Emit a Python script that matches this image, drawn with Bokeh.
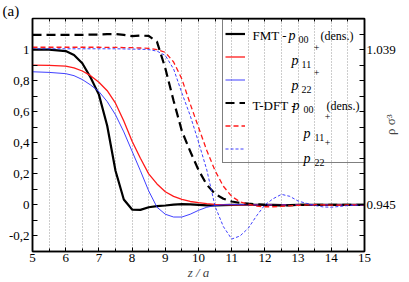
from math import pi
from bokeh.plotting import figure
from bokeh.models import Range1d, LinearAxis, FixedTicker, Legend, LegendItem, Label
from bokeh.core.properties import value
from bokeh.embed import file_html
from bokeh.resources import INLINE

# ---------------- data ----------------
z = [5, 5.5, 6, 6.25, 6.5, 6.75, 7, 7.25, 7.5, 7.75, 8, 8.25, 8.5, 8.75, 9, 9.25, 9.5, 9.75,
     10, 10.25, 10.5, 10.75, 11, 11.25, 11.5, 11.75, 12, 12.25, 12.5, 12.75, 13, 13.25, 13.5,
     13.75, 14, 14.25, 14.5, 15]

fmt_p00 = [1.0, 1.0, 0.99, 0.965, 0.912, 0.82, 0.71, 0.51, 0.22, 0.035, -0.03, -0.032, -0.015,
           -0.008, -0.004, 0.002, 0.005, 0.003, 0.0, -0.003, -0.003, -0.001, 0.0, 0.001, 0.001,
           0.0, 0.0, 0.0, -0.001, -0.001, 0.0, 0.0, 0.0, 0.0, 0.0, 0.0, 0.0, 0.0]
fmt_p11 = [0.90, 0.898, 0.893, 0.882, 0.862, 0.832, 0.79, 0.735, 0.655, 0.54, 0.41, 0.30, 0.20,
           0.135, 0.085, 0.055, 0.035, 0.022, 0.014, 0.008, 0.004, 0.002, 0.001, 0.0, 0.0, 0.0,
           0.0, 0.0, 0.0, 0.0, 0.0, 0.0, 0.0, 0.0, 0.0, 0.0, 0.0, 0.0]
fmt_p22 = [0.857, 0.853, 0.845, 0.832, 0.807, 0.772, 0.73, 0.665, 0.58, 0.47, 0.345, 0.22, 0.09,
           -0.015, -0.06, -0.078, -0.078, -0.06, -0.035, -0.015, -0.004, 0.001, 0.002, 0.002,
           0.001, 0.0, 0.0, 0.0, 0.0, 0.0, 0.0, 0.0, 0.0, 0.0, 0.0, 0.0, 0.0, 0.0]
tdft_p00 = [1.095, 1.095, 1.095, 1.095, 1.095, 1.096, 1.097, 1.099, 1.1, 1.095, 1.087, 1.09,
            1.088, 1.05, 0.88, 0.67, 0.475, 0.345, 0.225, 0.13, 0.07, 0.04, 0.022, 0.013, 0.008,
            0.004, 0.0, -0.002, -0.003, -0.002, 0.0, 0.0, 0.0, 0.0, 0.0, 0.0, 0.0, 0.0]
tdft_p11 = [1.015, 1.015, 1.015, 1.015, 1.015, 1.015, 1.015, 1.014, 1.014, 1.013, 1.012, 1.01,
            1.008, 1.0, 0.982, 0.92, 0.81, 0.65, 0.50, 0.35, 0.22, 0.12, 0.055, 0.02, 0.005,
            -0.008, -0.012, -0.012, -0.01, -0.006, -0.003, 0.0, 0.001, 0.0, -0.002, -0.002, 0.0, 0.0]
tdft_p22 = [1.005, 1.005, 1.005, 1.005, 1.005, 1.005, 1.005, 1.005, 1.005, 1.004, 1.003, 1.002,
            1.0, 0.99, 0.962, 0.875, 0.72, 0.575, 0.405, 0.225, -0.01, -0.14, -0.22, -0.2, -0.15,
            -0.07, 0.0, 0.04, 0.068, 0.055, 0.025, 0.01, -0.003, -0.013, -0.015, -0.01, -0.004, 0.0]

x_ticks = [5, 6, 7, 8, 9, 10, 11, 12, 13, 14, 15]
x_minor = [5.5, 6.5, 7.5, 8.5, 9.5, 10.5, 11.5, 12.5, 13.5, 14.5]
grid_x = [5.5, 6, 6.5, 7, 7.5, 8, 8.5, 9, 9.5, 10, 10.5, 11, 11.5, 12, 12.5, 13, 13.5, 14, 14.5]
y_ticks = [-0.2, 0, 0.2, 0.4, 0.6, 0.8, 1]
y_tick_labels = ["-0,2", "0", "0,2", "0,4", "0,6", "0,8", "1"]
y_minor = [-0.3, -0.1, 0.1, 0.3, 0.5, 0.7, 0.9, 1.1]
right_ticks = [0, 1]
right_tick_labels = ["0.945", "1.039"]
right_minor = [-0.2, -0.1, 0.1, 0.2, 0.3, 0.4, 0.5, 0.6, 0.7, 0.8, 0.9, 1.1]

FONT = "Liberation Serif"

p = figure(width=409, height=282, x_range=Range1d(5, 15), y_range=Range1d(-0.3, 1.2),
           output_backend="svg", toolbar_location=None,
           min_border_left=32, min_border_right=45, min_border_top=16, min_border_bottom=31,
           margin=(0, 0, 0, 0))
p.background_fill_color = "white"
p.border_fill_color = "white"
p.outline_line_color = "black"
p.outline_line_width = 1.5

# panel letter as title
p.title.text = "(a)"
p.title.text_font = FONT
p.title.text_font_size = "15px"
p.title.text_font_style = "normal"
p.title.text_color = "black"
p.title.text_line_height = 0.8
p.title.align = "left"
p.title.offset = -30
p.title.standoff = 0

# grid
p.ygrid.visible = False
p.xgrid.ticker = FixedTicker(ticks=grid_x)
p.xgrid.grid_line_color = "#9a9a9a"
p.xgrid.grid_line_dash = "1 2"
p.xgrid.grid_line_width = 1

# bottom axis
xa = p.xaxis[0]
xa.ticker = FixedTicker(ticks=x_ticks, minor_ticks=x_minor)
xa.major_tick_in = 4
xa.major_tick_out = 0
xa.minor_tick_in = 3
xa.minor_tick_out = 0
xa.axis_line_width = 1.5
xa.major_label_standoff = 2
xa.major_label_text_font = FONT
xa.major_label_text_font_size = "13px"
xa.major_label_text_color = "black"
xa.axis_label = "z / a"
xa.axis_label_text_font = FONT
xa.axis_label_text_font_style = "italic"
xa.axis_label_text_font_size = "13px"
xa.axis_label_standoff = 0

# left axis
ya = p.yaxis[0]
ya.ticker = FixedTicker(ticks=y_ticks, minor_ticks=y_minor)
ya.major_label_overrides = dict(zip(y_ticks, y_tick_labels))
ya.major_tick_in = 5
ya.major_tick_out = 0
ya.minor_tick_in = 5
ya.minor_tick_out = 0
ya.axis_line_width = 1.5
ya.major_label_standoff = 3
ya.major_label_text_font = FONT
ya.major_label_text_font_size = "13px"
ya.major_label_text_color = "black"

# right axis
ra = LinearAxis(ticker=FixedTicker(ticks=right_ticks, minor_ticks=right_minor))
ra.major_label_overrides = dict(zip(right_ticks, right_tick_labels))
ra.major_tick_in = 5
ra.major_tick_out = 0
ra.minor_tick_in = 5
ra.minor_tick_out = 0
ra.axis_line_width = 1.5
ra.major_label_standoff = 2
ra.major_label_text_font = FONT
ra.major_label_text_font_size = "13px"
ra.major_label_text_color = "black"
ra.axis_label = "ρ σ³"
ra.axis_label_text_font = FONT
ra.axis_label_text_font_style = "normal"
ra.axis_label_text_font_size = "13px"
ra.axis_label_standoff = -8
try:
    ra.axis_label_orientation = pi / 2
except Exception:
    pass
p.add_layout(ra, "right")

# top axis (ticks only)
ta = LinearAxis(ticker=FixedTicker(ticks=x_ticks, minor_ticks=x_minor))
ta.major_label_overrides = {t: "" for t in x_ticks}
ta.major_label_standoff = 0
ta.major_tick_in = 3
ta.major_tick_out = 0
ta.minor_tick_in = 3
ta.minor_tick_out = 0
ta.axis_line_color = None
p.add_layout(ta, "above")

# curves
r1 = p.line(z, fmt_p00, line_color="black", line_width=2.2)
r2 = p.line(z, fmt_p11, line_color="#ff1a1a", line_width=1.3)
r3 = p.line(z, fmt_p22, line_color="#2a2aff", line_width=0.9)
r4 = p.line(z, tdft_p00, line_color="black", line_width=2.2, line_dash="9 5")
r5 = p.line(z, tdft_p11, line_color="#ff1a1a", line_width=1.3, line_dash="5 3")
r6 = p.line(z, tdft_p22, line_color="#2a2aff", line_width=0.9, line_dash="3 2")

legend = Legend(items=[LegendItem(label=value(""), renderers=[r]) for r in (r1, r2, r3, r4, r5, r6)],
                location=(190, 88), padding=2, spacing=0, margin=0,
                glyph_width=20, glyph_height=23, label_height=23, label_width=113,
                label_standoff=5, label_text_font_size="10px",
                border_line_color="black", border_line_width=1.2,
                background_fill_color="white", background_fill_alpha=0.0)
p.add_layout(legend, "center")

FL, FB = 32, 251  # frame left / bottom in page pixels (for screen-unit annotations)


def txt(x, y, s, size, style="normal", align="left", baseline="alphabetic"):
    p.add_layout(Label(x=x - FL, y=FB - y, x_units="screen", y_units="screen", text=s,
                       text_font=FONT, text_font_size=size, text_font_style=style,
                       text_align=align, text_baseline=baseline,
                       text_color="black", level="overlay"))


# legend texts
txt(252, 35, "FMT - ", "13px")
txt(288, 35, "p", "14px", "italic")
txt(298, 39, "00", "10px")
txt(320, 35, "(dens.)", "12px")

txt(316, 47, "+", "10px", align="center", baseline="middle")
txt(291, 60, "p", "14px", "italic")
txt(301, 64, "11", "10px")

txt(316, 72, "+", "10px", align="center", baseline="middle")
txt(291, 85, "p", "14px", "italic")
txt(301, 89, "22", "10px")

txt(252, 105, "T-DFT - ", "13px")
txt(292, 105, "p", "14px", "italic")
txt(303, 109, "00", "10px")
txt(326, 105, "(dens.)", "12px")

txt(327, 116, "+", "10px", align="center", baseline="middle")
txt(303, 133, "p", "14px", "italic")
txt(314, 137, "11", "10px")

txt(327, 142, "+", "10px", align="center", baseline="middle")
txt(303, 158, "p", "14px", "italic")
txt(314, 162, "22", "10px")

open("out.html", "w").write(file_html(p, INLINE))
